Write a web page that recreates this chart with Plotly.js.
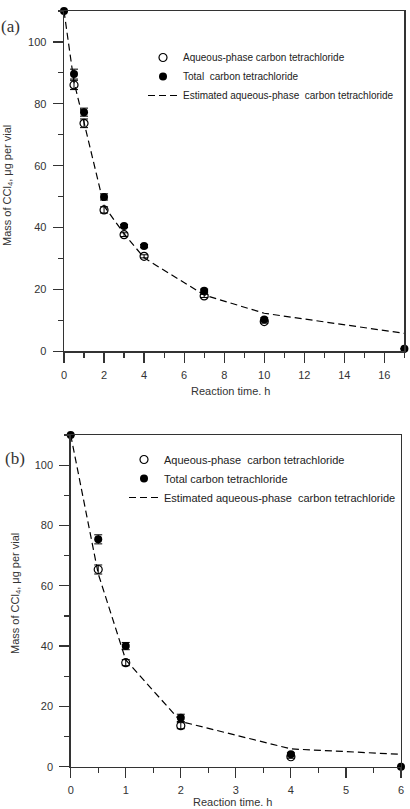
<!DOCTYPE html>
<html>
<head>
<meta charset="utf-8">
<script src="https://cdn.plot.ly/plotly-3.0.1.min.js"></script>
<style>html,body{margin:0;padding:0;background:#fff;}#plot{width:410px;height:809px;}</style>
</head>
<body>
<div id="plot"></div>
<script>
// ---------- Panel (a) data ----------
var aTimeAq = [0.5, 1, 2, 3, 4, 7, 10];
var aAqueous = [86.1, 73.7, 45.7, 37.7, 30.7, 17.9, 9.6];
var aAqueousErr = [1.5, 1.4, 1.0, 0.6, 0.5, 0.5, 0.5];
var aTimeTot = [0, 0.5, 1, 2, 3, 4, 7, 10, 17];
var aTotal = [110, 89.6, 77.3, 49.9, 40.5, 34.0, 19.6, 10.3, 0.8];
var aTotalErr = [0, 1.6, 1.3, 1.0, 0.5, 0.5, 0.5, 0.5, 0];
var aTimeEst = [0, 0.5, 1, 2, 3, 4, 7, 10, 17];
var aEstimated = [110, 87, 74, 47, 38, 30.2, 18.2, 12.3, 5.8];

// ---------- Panel (b) data ----------
var bTimeAq = [0.5, 1, 2, 4];
var bAqueous = [65.4, 34.5, 13.6, 3.3];
var bAqueousErr = [1.5, 1.0, 1.0, 0.5];
var bTimeTot = [0, 0.5, 1, 2, 4, 6];
var bTotal = [110, 75.4, 40.0, 16.2, 4.1, 0];
var bTotalErr = [0, 1.5, 1.2, 1.2, 0.5, 0];
var bTimeEst = [0, 0.5, 1, 2, 4, 6];
var bEstimated = [110, 64, 35.4, 15, 5.9, 4.1];

var nameAqA = 'Aqueous-phase carbon tetrachloride';
var nameTotA = 'Total\u00a0 carbon tetrachloride';
var nameEstA = 'Estimated aqueous-phase\u00a0 carbon tetrachloride';
var nameAqB = 'Aqueous-phase\u00a0 carbon tetrachloride';
var nameTotB = 'Total carbon tetrachloride';
var nameEstB = 'Estimated aqueous-phase\u00a0 carbon tetrachloride';

var yTitle = 'Mass of CCl<sub>4</sub>, \u03bcg per vial';
var xTitle = 'Reaction time. h';

var FONT = '"Liberation Sans", Arial, sans-serif';
var AX = '#333';

function errBar(arr){ return {type:'data', array:arr, visible:true, color:'#000', thickness:1, width:4}; }

var traces = [
  {x:aTimeEst, y:aEstimated, xaxis:'x', yaxis:'y', mode:'lines', name:nameEstA, legend:'legend', legendrank:3,
   line:{color:'#000', width:1.2, dash:'7px,4px'}, cliponaxis:false},
  {x:aTimeAq, y:aAqueous, xaxis:'x', yaxis:'y', mode:'markers', name:nameAqA, legend:'legend', legendrank:1,
   marker:{symbol:'circle-open', size:8, color:'#000', line:{width:1.2, color:'#000'}}, error_y:errBar(aAqueousErr), cliponaxis:false},
  {x:aTimeTot, y:aTotal, xaxis:'x', yaxis:'y', mode:'markers', name:nameTotA, legend:'legend', legendrank:2,
   marker:{symbol:'circle', size:8, color:'#000'}, error_y:errBar(aTotalErr), cliponaxis:false},

  {x:bTimeEst, y:bEstimated, xaxis:'x2', yaxis:'y2', mode:'lines', name:nameEstB, legend:'legend2', legendrank:3,
   line:{color:'#000', width:1.2, dash:'7px,4px'}, cliponaxis:false},
  {x:bTimeAq, y:bAqueous, xaxis:'x2', yaxis:'y2', mode:'markers', name:nameAqB, legend:'legend2', legendrank:1,
   marker:{symbol:'circle-open', size:8, color:'#000', line:{width:1.2, color:'#000'}}, error_y:errBar(bAqueousErr), cliponaxis:false},
  {x:bTimeTot, y:bTotal, xaxis:'x2', yaxis:'y2', mode:'markers', name:nameTotB, legend:'legend2', legendrank:2,
   marker:{symbol:'circle', size:8, color:'#000'}, error_y:errBar(bTotalErr), cliponaxis:false}
];

function xAxis(domain, range, dtick, minorDtick, anchor){
  return {domain:domain, range:range, anchor:anchor, tickmode:'linear', dtick:dtick, tick0:0, ticks:'outside', ticklen:10, tickwidth:1.2,
    tickcolor:AX, showline:true, linecolor:AX, linewidth:1.4, mirror:true, showgrid:false, zeroline:false,
    ticklabelstandoff:3, tickfont:{family:FONT, size:11, color:AX},
    minor:{dtick:minorDtick, tick0:0, ticks:'outside', ticklen:5, tickwidth:1.2, tickcolor:AX, showgrid:false}};
}
function yAxis(domain, anchor){
  return {domain:domain, range:[0,110], anchor:anchor, tickmode:'linear', dtick:20, tick0:0, ticks:'outside', ticklen:10, tickwidth:1.2,
    tickcolor:AX, showline:true, linecolor:AX, linewidth:1.4, mirror:true, showgrid:false, zeroline:false,
    ticklabelstandoff:4, tickfont:{family:FONT, size:11, color:AX},
    minor:{dtick:10, tick0:0, ticks:'outside', ticklen:5, tickwidth:1.2, tickcolor:AX, showgrid:false}};
}

var W = 410, H = 809;
function px(x){ return x / W; }
function py(y){ return 1 - y / H; }

function note(text, x, y, size, family, angle){
  return {text:text, xref:'paper', yref:'paper', x:px(x), y:py(y), xanchor:'center', yanchor:'middle',
    showarrow:false, textangle:angle || 0, font:{family:family, size:size, color:AX}};
}
var SERIF = '"Liberation Serif", "Times New Roman", serif';

var layout = {
  width:W, height:H, margin:{l:0, r:0, t:0, b:0},
  paper_bgcolor:'#fff', plot_bgcolor:'#fff',
  showlegend:true,
  xaxis: xAxis([px(64), px(404.4)], [0,17], 2, 1, 'y'),
  yaxis: yAxis([py(351.3), py(11)], 'x'),
  xaxis2: xAxis([px(70.7), px(401)], [0,6], 1, 0.5, 'y2'),
  yaxis2: yAxis([py(766.7), py(435)], 'x2'),
  legend:{x:px(143), y:py(43), xanchor:'left', yanchor:'top', bgcolor:'rgba(0,0,0,0)',
    font:{family:FONT, size:10, color:'#222'}, traceorder:'normal', tracegroupgap:0},
  legend2:{x:px(124), y:py(445), xanchor:'left', yanchor:'top', bgcolor:'rgba(0,0,0,0)',
    font:{family:FONT, size:11, color:'#222'}, traceorder:'normal', tracegroupgap:0},
  annotations:[
    note('(a)', 10, 27, 17, SERIF),
    note('(b)', 15, 458, 17, SERIF),
    note(yTitle, 8, 186, 11, FONT, -90),
    note(yTitle, 16, 594, 11, FONT, -90),
    note(xTitle, 231, 391, 11, FONT),
    note(xTitle, 233, 802, 11, FONT)
  ]
};

Plotly.newPlot('plot', traces, layout, {displayModeBar:false, staticPlot:true});
</script>
</body>
</html>
